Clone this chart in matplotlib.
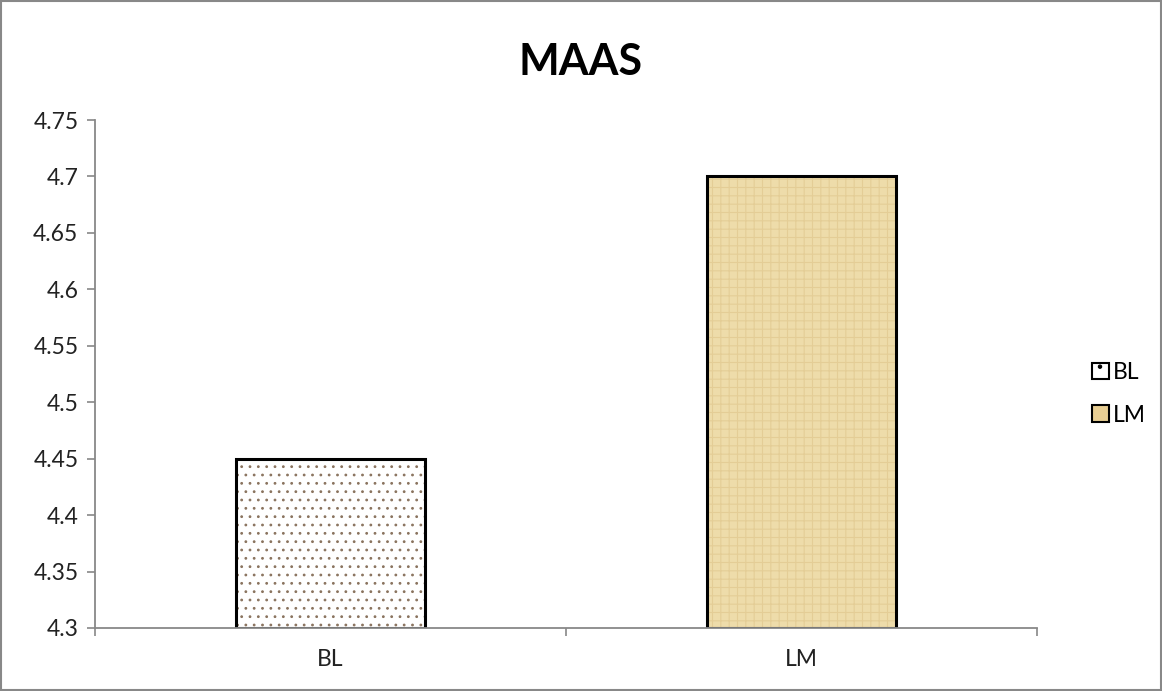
import matplotlib.pyplot as plt
from matplotlib.patches import Patch, Rectangle

categories = ['BL', 'LM']
values     = [4.45, 4.70]
yticks     = [4.3, 4.35, 4.4, 4.45, 4.5, 4.55, 4.6, 4.65, 4.7, 4.75]
ytick_labels = ['4.3', '4.35', '4.4', '4.45', '4.5', '4.55', '4.6', '4.65', '4.7', '4.75']
title      = 'MAAS'

plt.rcParams['font.family'] = ['Lato', 'DejaVu Sans']
plt.rcParams['hatch.linewidth'] = 0.8

fig = plt.figure(figsize=(11.62, 6.91), dpi=100)
ax = fig.add_axes([0.0818, 0.0912, 0.8107, 0.7351])

x = [0, 1]
width = 0.403

# BL: white with dot pattern, LM: papyrus tone
ax.bar(x[0], values[0] - 4.3, bottom=4.3, width=width, color='white',
       edgecolor='#8a735e', hatch='..', linewidth=0)
ax.bar(x[1], values[1] - 4.3, bottom=4.3, width=width, color='#EEDCAA',
       edgecolor='#E4CD96', hatch='++', linewidth=0)
ax.bar(x, [v - 4.3 for v in values], bottom=4.3, width=width, fill=False,
       edgecolor='black', linewidth=2.2)

ax.set_xlim(-0.5, 1.5)
ax.set_ylim(4.3, 4.75)
ax.set_yticks(yticks)
ax.set_yticklabels(ytick_labels)
ax.set_xticks(x)
ax.set_xticklabels(categories)
ax.set_xticks([-0.5, 0.5, 1.5], minor=True)
ax.tick_params(axis='x', which='major', length=0, pad=15, labelsize=16.5, colors='#222222')
ax.tick_params(axis='x', which='minor', length=6, width=1.2, color='#888888')
ax.tick_params(axis='y', length=6, width=1.2, color='#888888', labelsize=16.5,
               labelcolor='#222222', pad=6)

for s in ['top', 'right']:
    ax.spines[s].set_visible(False)
for s in ['left', 'bottom']:
    ax.spines[s].set_color('#888888')
    ax.spines[s].set_linewidth(1.3)

fig.text(0.5, 0.91, title, ha='center', va='center', fontsize=31, fontweight='bold')

handles = [Patch(facecolor='white', edgecolor='black', linewidth=1.5, hatch='.'),
           Patch(facecolor='#E8CE93', edgecolor='black', linewidth=1.5)]
fig.legend(handles, categories, loc='center left', bbox_to_anchor=(0.922, 0.43),
           frameon=False, fontsize=16.5, handlelength=0.75, handleheight=0.75,
           handletextpad=0.15, labelspacing=0.95)

fig.patches.append(Rectangle((0.001, 0.001), 0.998, 0.998, transform=fig.transFigure,
                             fill=False, edgecolor='#888888', linewidth=1.5))

fig.savefig('out.png', dpi=100)
